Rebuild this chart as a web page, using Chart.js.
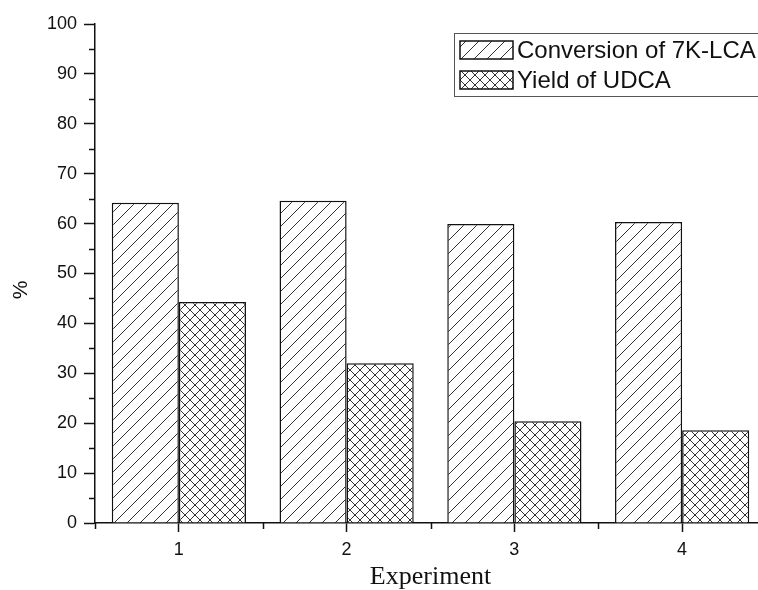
<!DOCTYPE html>
<html>
<head>
<meta charset="utf-8">
<script src="https://cdn.jsdelivr.net/npm/chart.js@4/dist/chart.umd.min.js"></script>
<style>
  html, body { margin: 0; padding: 0; overflow: hidden; background: #fff; }
  #chart { display: block; }
</style>
</head>
<body>
<canvas id="chart" width="770" height="590"></canvas>
<script>
// 数据
const experiments = ['1', '2', '3', '4'];
const conversion = [64.2, 64.6, 59.9, 60.3];   // Conversion of 7K-LCA
const yieldUDCA = [44.3, 32.0, 20.4, 18.6];    // Yield of UDCA
const seriesNames = ['Conversion of 7K-LCA', 'Yield of UDCA'];

const SANS = '"Liberation Sans", Arial, sans-serif';
const SERIF = '"Liberation Serif", "Times New Roman", serif';

// 斜线填充
function makeHatch(size, cross) {
    const c = document.createElement('canvas');
    c.width = size;
    c.height = size;
    const g = c.getContext('2d');
    g.fillStyle = '#fff';
    g.fillRect(0, 0, size, size);
    g.strokeStyle = '#333';
    g.lineWidth = 1;
    g.beginPath();
    for (let k = -1; k <= 1; k++) {
        g.moveTo(k * size, size);
        g.lineTo(k * size + size, 0);
        if (cross) {
            g.moveTo(k * size, 0);
            g.lineTo(k * size + size, size);
        }
    }
    g.stroke();
    return g.createPattern(c, 'repeat');
}

const diagPattern = makeHatch(13, false);
const crossPattern = makeHatch(10, true);

// 次刻度 + 图例
const extrasPlugin = {
    id: 'extras',
    afterDraw(chart) {
        const ctx = chart.ctx;
        const x = chart.scales.x;
        const y = chart.scales.y;
        const area = chart.chartArea;
        ctx.save();
        ctx.strokeStyle = '#111';
        ctx.lineWidth = 1.5;
        ctx.beginPath();
        for (let v = 5; v < 100; v += 10) {
            const py = Math.round(y.getPixelForValue(v)) + 0.5;
            ctx.moveTo(area.left - 6, py);
            ctx.lineTo(area.left, py);
        }
        for (let i = 0; i <= experiments.length; i++) {
            const px = Math.round(x.getPixelForValue(i - 0.5)) + 0.5;
            ctx.moveTo(px, area.bottom);
            ctx.lineTo(px, area.bottom + 6);
        }
        ctx.stroke();

        // y 轴标题
        ctx.fillStyle = '#111';
        ctx.font = '21px ' + SANS;
        ctx.textAlign = 'center';
        ctx.textBaseline = 'middle';
        ctx.translate(21, 290);
        ctx.rotate(-Math.PI / 2);
        ctx.fillText('%', 0, 0);
        ctx.setTransform(1, 0, 0, 1, 0, 0);

        // 图例
        ctx.strokeStyle = '#555';
        ctx.lineWidth = 1;
        ctx.strokeRect(454.5, 33.5, 308, 63);
        ctx.font = '24px ' + SANS;
        ctx.textAlign = 'left';
        ctx.textBaseline = 'middle';
        chart.data.datasets.forEach((ds, i) => {
            const top = 41 + i * 30;
            ctx.fillStyle = ds.backgroundColor;
            ctx.fillRect(460, top, 53, 18);
            ctx.strokeStyle = '#111';
            ctx.lineWidth = 1.5;
            ctx.strokeRect(460, top, 53, 18);
            ctx.fillStyle = '#111';
            ctx.fillText(ds.label, 517, top + 10);
        });
        ctx.restore();
    }
};

new Chart(document.getElementById('chart'), {
    type: 'bar',
    data: {
        labels: experiments,
        datasets: [{
            label: seriesNames[0],
            data: conversion,
            backgroundColor: diagPattern,
            borderColor: '#111',
            borderWidth: 1.5,
            categoryPercentage: 0.8,
            barPercentage: 1.0
        }, {
            label: seriesNames[1],
            data: yieldUDCA,
            backgroundColor: crossPattern,
            borderColor: '#111',
            borderWidth: 1.5,
            categoryPercentage: 0.8,
            barPercentage: 1.0
        }]
    },
    options: {
        responsive: false,
        animation: false,
        layout: { padding: { top: 24, right: 4, bottom: 0, left: 0 } },
        plugins: {
            legend: { display: false },
            tooltip: { enabled: false }
        },
        scales: {
            x: {
                offset: true,
                grid: {
                    offset: false,
                    drawOnChartArea: false,
                    drawTicks: true,
                    tickLength: 9,
                    tickColor: '#111',
                    tickWidth: 1.5
                },
                border: { display: true, color: '#111', width: 1.5 },
                ticks: {
                    color: '#111',
                    font: { family: SANS, size: 18 },
                    padding: 7,
                    maxRotation: 0
                },
                title: {
                    display: true,
                    text: 'Experiment',
                    color: '#111',
                    font: { family: SERIF, size: 26, lineHeight: 1 },
                    padding: { top: 0, bottom: 0 }
                },
                afterFit(scale) { scale.height = 67; }
            },
            y: {
                min: 0,
                max: 100,
                grid: {
                    drawOnChartArea: false,
                    drawTicks: true,
                    tickLength: 11,
                    tickColor: '#111',
                    tickWidth: 1.5
                },
                border: { display: true, color: '#111', width: 1.5 },
                ticks: {
                    stepSize: 10,
                    color: '#111',
                    font: { family: SANS, size: 18 },
                    padding: 7
                },
                afterFit(scale) { scale.width = 95; }
            }
        }
    },
    plugins: [extrasPlugin]
});
</script>
</body>
</html>
